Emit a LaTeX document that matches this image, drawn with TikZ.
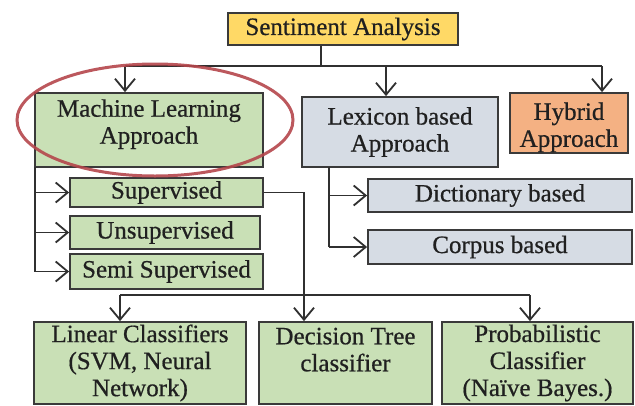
\documentclass[tikz,border=0pt]{standalone}
\usepackage{fontspec}
\setmainfont{Liberation Serif}[BoldFont=Liberation Serif, BoldFeatures={FakeBold=0.6}]
\usetikzlibrary{arrows.meta}
\definecolor{cYellow}{HTML}{FFD966}
\definecolor{cGreen}{HTML}{C9E0B6}
\definecolor{cBlue}{HTML}{D6DCE4}
\definecolor{cOrange}{HTML}{F4B183}
\definecolor{cBorder}{HTML}{3A3A3A}
\definecolor{cLine}{HTML}{303030}
\definecolor{cRing}{HTML}{B5464B}
\definecolor{cText}{HTML}{202020}
\tikzset{
  box/.style={draw=cBorder, line width=1.8pt, inner sep=0pt, align=center,
    font=\fontsize{25}{27}\selectfont\bfseries, text=cText},
  conn/.style={draw=cLine, line width=1.6pt},
  arr/.style={conn, -{Straight Barb[length=12pt,width=20pt,line width=1.8pt]}},
  ring/.style={draw=cRing, draw opacity=0.9, line width=3pt}
}
\begin{document}
\begin{tikzpicture}[x=1pt,y=-1pt]
\useasboundingbox (0,0) rectangle (635,405);
% nodes
\node[box, fill=cYellow, minimum width=230pt, minimum height=32pt] (sa) at (343,29) {Sentiment Analysis};
\node[box, fill=cGreen, minimum width=228pt, minimum height=74pt] (ml) at (149,130) {Machine Learning\\Approach\\[-10pt]\mbox{}};
\node[box, fill=cBlue, minimum width=196pt, minimum height=70pt] (lex) at (400,132) {Lexicon based\\Approach};
\node[box, fill=cOrange, minimum width=118pt, minimum height=60pt] (hyb) at (569,123) {\rule{0pt}{26pt}Hybrid\\Approach};
\node[box, fill=cGreen, minimum width=193pt, minimum height=29pt] (sup) at (166.5,192.5) {Supervised};
\node[box, fill=cGreen, minimum width=190pt, minimum height=33pt] (uns) at (165,232.5) {Unsupervised};
\node[box, fill=cGreen, minimum width=193pt, minimum height=35pt] (semi) at (166.5,271.5) {Semi Supervised};
\node[box, fill=cBlue, minimum width=264pt, minimum height=33pt] (dict) at (500,195.5) {Dictionary based};
\node[box, fill=cBlue, minimum width=264pt, minimum height=34pt] (corp) at (500,247) {Corpus based};
\node[box, fill=cGreen, minimum width=212pt, minimum height=82pt] (lin) at (140,363) {Linear Classifiers\\(SVM, Neural\\Network)};
\node[box, fill=cGreen, minimum width=173pt, minimum height=82pt] (dec) at (345.5,363) {Decision Tree\\classifier\\\mbox{}};
\node[box, fill=cGreen, minimum width=191pt, minimum height=82pt] (prob) at (537.5,363) {Probabilistic\\Classifier\\(Naïve Bayes.)};
% junction coordinates
\coordinate (j0) at (321,66);
\coordinate (a1) at (125,66);
\coordinate (a2) at (386,66);
\coordinate (a3) at (602,66);
\coordinate (mx) at (35,167);
\coordinate (lx) at (329,167);
\coordinate (d1) at (304,295);
\coordinate (b1) at (120,295);
\coordinate (b3) at (530,295);
% top level
\draw[conn] (j0 |- sa.south) -- (j0);
\draw[conn] (a1) -- (a3);
\draw[arr] (a1) -- (a1 |- ml.north);
\draw[arr] (a2) -- (a2 |- lex.north);
\draw[arr] (a3) -- (a3 |- hyb.north);
% machine learning branches
\draw[conn] (mx) -- (mx |- semi.west);
\draw[arr] (mx |- sup.west) -- (sup.west);
\draw[arr] (mx |- uns.west) -- (uns.west);
\draw[arr] (mx |- semi.west) -- (semi.west);
% lexicon branches
\draw[conn] (lx) -- (lx |- corp.west);
\draw[arr] (lx |- dict.west) -- (dict.west);
\draw[arr] (lx |- corp.west) -- (corp.west);
% supervised to classifiers
\draw[arr] (sup.east) -| (d1 |- dec.north);
\draw[conn] (b1) -- (b3);
\draw[arr] (b1) -- (b1 |- lin.north);
\draw[arr] (b3) -- (b3 |- prob.north);
% highlight ring
\draw[ring] (155,120) ellipse [x radius=138, y radius=56];
\end{tikzpicture}
\end{document}
